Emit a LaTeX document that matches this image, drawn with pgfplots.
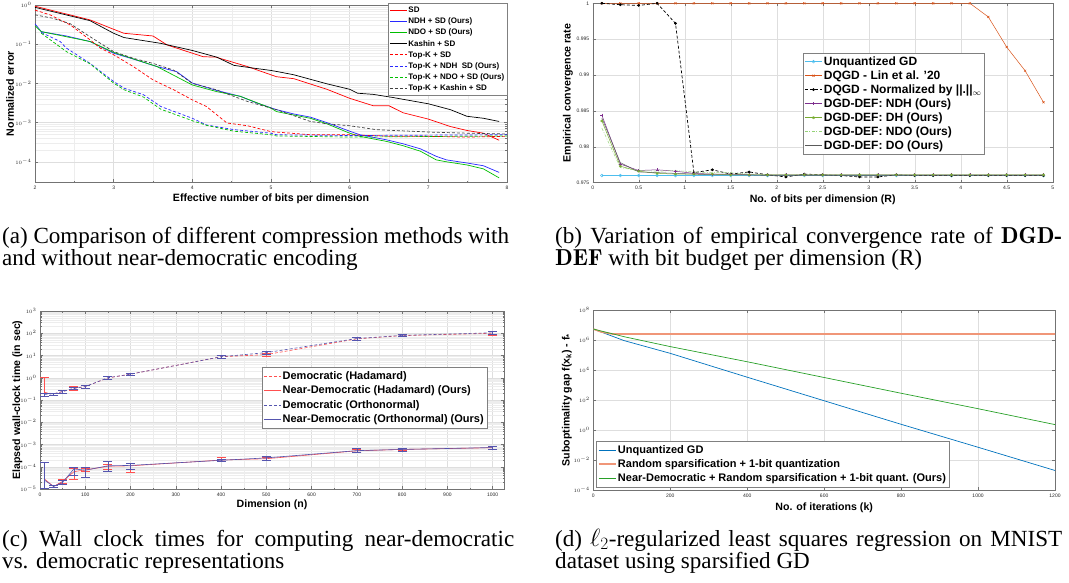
\documentclass[border=0pt]{standalone}
\usepackage{fontspec}
\setmainfont{Liberation Serif}
\setsansfont{Liberation Sans}
\usepackage{pgfplots}
\pgfplotsset{compat=1.18}
\definecolor{mgreen}{RGB}{0,190,0}
\definecolor{mlblue}{RGB}{77,190,238}
\definecolor{morange}{RGB}{217,83,25}
\definecolor{mpurple}{RGB}{126,47,142}
\definecolor{mdgreen}{RGB}{119,172,48}
\definecolor{mlgreen}{RGB}{150,210,120}
\definecolor{mgray}{RGB}{90,90,90}
\definecolor{cred}{RGB}{255,80,80}
\definecolor{cblue}{RGB}{85,85,175}
\definecolor{dblue}{RGB}{0,114,189}
\definecolor{dorange}{RGB}{240,150,120}
\definecolor{dgreen}{RGB}{40,160,40}
\definecolor{nblue}{RGB}{40,40,255}
\pgfplotsset{
 base/.style={
  scale only axis, anchor=south west,
  axis line style={black!55, line width=0.4pt},
  tick style={black!55, line width=0.4pt},
  major tick length=3pt, minor tick length=1.5pt,
  tick align=inside,
  tick label style={font=\sffamily\fontsize{5}{6}\selectfont, black!85},
  label style={font=\sffamily\bfseries\fontsize{10.6}{12}\selectfont},
  major grid style={black!13, line width=0.4pt},
  minor grid style={black!7, line width=0.3pt},
  /pgf/number format/assume math mode=true,
  /pgf/number format/1000 sep={},
  scaled ticks=false,
  legend cell align=left,
  legend style={font=\sffamily\bfseries\fontsize{11}{12}\selectfont, draw=black!50, fill=white, inner sep=1.5pt,
    nodes={inner xsep=1.5pt, inner ysep=2.3pt}},
  every axis plot/.append style={line width=0.7pt},
 }
}
\begin{document}
\begin{tikzpicture}
\useasboundingbox (0pt,0pt) rectangle (1069pt,582pt);
% ---------------- (a)
\begin{axis}[base, at={(35pt,399.7pt)}, width=472pt, height=177.3pt,
 xmin=2, xmax=8, ymin=3e-5, ymax=1, ymode=log,
 xtick={2,3,4,5,6,7,8}, ytick={1e-4,1e-3,1e-2,1e-1,1},
 grid=both, minor x tick num=1,
 xlabel={Effective number of bits per dimension}, ylabel={Normalized error},
 xlabel style={at={(axis description cs:0.5,-0.094)}, anchor=center},
 ylabel style={at={(axis description cs:-0.053,0.5)}, anchor=center},
 legend style={at={(1,1.01)}, anchor=north east, font=\sffamily\bfseries\fontsize{8}{9}\selectfont,
   nodes={inner xsep=1pt, inner ysep=1.95pt}},
 every axis legend/.append style={},
 legend image post style={line width=1pt},
]
\addplot[red] coordinates {(2,0.93) (2.7,0.417) (3.0,0.24) (3.13,0.19) (3.5,0.162) (3.68,0.0955) (4.0,0.0589) (4.14,0.0479) (4.3,0.0468) (4.7,0.0269) (5.07,0.0148) (5.29,0.0132) (5.71,0.00708) (6.0,0.00417) (6.3,0.00269) (6.5,0.00269) (6.68,0.00178) (7.0,0.00123) (7.28,0.000794) (7.49,0.000631) (7.7,0.000537) (7.9,0.000355)};
\addlegendentry{SD}
\addplot[nblue] coordinates {(2,0.331) (2.08,0.209) (2.4,0.162) (2.7,0.117) (3.0,0.0589) (3.25,0.0417) (3.55,0.0269) (3.8,0.02) (4.0,0.0102) (4.31,0.00661) (4.61,0.00468) (4.82,0.00316) (5.07,0.00214) (5.29,0.00166) (5.5,0.00138) (5.71,0.001) (6.0,0.000603) (6.13,0.00049) (6.47,0.000363) (6.68,0.000288) (6.9,0.000214) (7.1,0.000138) (7.23,0.000112) (7.49,0.0000933) (7.7,0.0000794) (7.9,0.0000537)};
\addlegendentry{NDH + SD (Ours)}
\addplot[mgreen] coordinates {(2,0.295) (2.08,0.209) (2.4,0.155) (2.7,0.117) (3.0,0.0617) (3.55,0.0269) (4.0,0.00912) (4.31,0.00617) (4.61,0.00468) (5.0,0.00234) (5.07,0.00191) (5.5,0.00129) (5.71,0.000933) (6.0,0.000537) (6.13,0.000447) (6.47,0.000331) (6.68,0.000257) (6.9,0.000186) (7.1,0.000112) (7.23,0.0001) (7.49,0.0000832) (7.7,0.0000661) (7.9,0.0000389)};
\addlegendentry{NDO + SD (Ours)}
\addplot[black] coordinates {(2,0.871) (2.7,0.398) (3.0,0.19) (3.13,0.148) (3.6,0.105) (4.0,0.0692) (4.31,0.0468) (4.53,0.0288) (4.78,0.0245) (5.0,0.0214) (5.11,0.0195) (5.29,0.0166) (5.71,0.00977) (6.0,0.00708) (6.1,0.00562) (6.3,0.00525) (6.55,0.00437) (7.0,0.00302) (7.28,0.00214) (7.49,0.00145) (7.7,0.00129) (7.9,0.00107)};
\addlegendentry{Kashin + SD}
\addplot[red, dash pattern=on 3pt off 2pt] coordinates {(2,0.741) (2.19,0.562) (2.45,0.309) (2.7,0.129) (2.83,0.0794) (3.0,0.0537) (3.25,0.0269) (3.5,0.0123) (3.76,0.00692) (4.0,0.0038) (4.18,0.00257) (4.44,0.000977) (4.7,0.000832) (5.0,0.000589) (5.5,0.00049) (6.0,0.00049) (6.55,0.000447) (7.0,0.000447) (7.49,0.000427) (8.0,0.000447)};
\addlegendentry{Top-K + SD}
\addplot[nblue, dash pattern=on 3pt off 2pt] coordinates {(2.08,0.2) (2.32,0.117) (2.4,0.0794) (2.7,0.0324) (3.0,0.0112) (3.13,0.00759) (3.38,0.00513) (3.6,0.00257) (4.0,0.00129) (4.18,0.000871) (4.53,0.000661) (5.0,0.000537) (5.07,0.00049) (6.0,0.000468) (8.0,0.00049)};
\addlegendentry{Top-K + NDH\ \ SD (Ours)}
\addplot[mgreen, dash pattern=on 3pt off 2pt] coordinates {(2.08,0.191) (2.4,0.0646) (2.7,0.0316) (3.0,0.0102) (3.13,0.00692) (3.38,0.00447) (3.6,0.00219) (4.0,0.00112) (4.18,0.000851) (4.53,0.000603) (5.0,0.00049) (5.07,0.000457) (6.0,0.000427) (8.0,0.000457)};
\addlegendentry{Top-K + NDO + SD (Ours)}
\addplot[black!75, dash pattern=on 3pt off 2pt] coordinates {(2,0.562) (2.23,0.457) (2.45,0.331) (2.7,0.155) (3.0,0.0646) (3.25,0.0437) (3.5,0.0324) (3.76,0.0219) (4.0,0.01) (4.3,0.00692) (4.7,0.00347) (5.0,0.00234) (5.07,0.00214) (5.5,0.00107) (5.71,0.000933) (6.0,0.000832) (6.34,0.000661) (7.0,0.000575) (7.49,0.000537) (8.0,0.000513)};
\addlegendentry{Top-K + Kashin + SD}
\end{axis}
% ---------------- (b)
\begin{axis}[base, at={(592.7pt,399.3pt)}, width=460pt, height=179.4pt,
 xmin=0, xmax=5, ymin=0.975, ymax=1,
 xtick={0,0.5,1,1.5,2,2.5,3,3.5,4,4.5,5}, ytick={0.975,0.98,0.985,0.99,0.995,1},
 yticklabel style={/pgf/number format/precision=3},
 grid=major,
 xlabel={No. of bits per dimension (R)}, ylabel={Empirical convergence rate},
 xlabel style={at={(axis description cs:0.5,-0.096)}, anchor=center},
 ylabel style={at={(axis description cs:-0.054,0.5)}, anchor=center},
 legend style={at={(0.457,0.723)}, anchor=north west, font=\sffamily\bfseries\fontsize{12}{13}\selectfont,
   nodes={inner xsep=1.5pt, inner ysep=1.9pt}},
 every axis plot/.append style={line width=0.5pt},
]
\addplot[mlblue, mark=o, mark size=1.4pt] coordinates {(0.1,0.976) (0.3,0.976) (0.5,0.976) (0.7,0.976) (0.9,0.976) (1.1,0.976) (1.3,0.976) (1.5,0.976) (1.7,0.976) (1.9,0.976) (2.1,0.976) (2.3,0.976) (2.5,0.976) (2.7,0.976) (2.9,0.976) (3.1,0.976) (3.3,0.976) (3.5,0.976) (3.7,0.976) (3.9,0.976) (4.1,0.976) (4.3,0.976) (4.5,0.976) (4.7,0.976) (4.9,0.976)};
\addlegendentry{Unquantized GD}
\addplot[morange, mark=x, mark size=1.5pt] coordinates {(0.1,1) (0.3,1) (0.5,1) (0.7,1) (0.9,1) (1.1,1) (1.3,1) (1.5,1) (1.7,1) (1.9,1) (2.1,1) (2.3,1) (2.5,1) (2.7,1) (2.9,1) (3.1,1) (3.3,1) (3.5,1) (3.7,1) (3.9,1) (4.1,1) (4.3,0.9981) (4.5,0.9939) (4.7,0.9906) (4.9,0.9862)};
\addlegendentry{DQGD - Lin et al. '20}
\addplot[black, line width=0.7pt, dash pattern=on 3pt off 2pt, mark=*, mark size=1pt, mark options={solid}] coordinates {(0.1,1) (0.3,0.9998) (0.5,0.9997) (0.7,1) (0.9,0.9972) (1.1,0.9764) (1.3,0.9768) (1.5,0.9762) (1.7,0.9765) (1.9,0.9761) (2.1,0.9758) (2.3,0.9762) (2.5,0.9761) (2.7,0.976) (2.9,0.9758) (3.1,0.9758) (3.3,0.9761) (3.5,0.976) (3.7,0.976) (3.9,0.976) (4.1,0.976) (4.3,0.976) (4.5,0.976) (4.7,0.976) (4.9,0.976)};
\addlegendentry{DQGD - Normalized by ||.||$_\infty$}
\addplot[mpurple, mark=+, mark size=1.5pt] coordinates {(0.1,0.9844) (0.3,0.9776) (0.5,0.9767) (0.7,0.9768) (0.9,0.9766) (1.1,0.9763) (1.3,0.9762) (1.5,0.9762) (1.7,0.9761) (1.9,0.9761) (2.1,0.9761) (2.3,0.9761) (2.5,0.9761) (2.7,0.9761) (2.9,0.9761) (3.1,0.9761) (3.3,0.9761) (3.5,0.9761) (3.7,0.9761) (3.9,0.9761) (4.1,0.9761) (4.3,0.9761) (4.5,0.9761) (4.7,0.9761) (4.9,0.9761)};
\addlegendentry{DGD-DEF: NDH (Ours)}
\addplot[mdgreen, mark=asterisk, mark size=1.5pt] coordinates {(0.1,0.9836) (0.3,0.9773) (0.5,0.9766) (0.7,0.9763) (0.9,0.9762) (1.1,0.9762) (1.3,0.9762) (1.5,0.9761) (1.7,0.9761) (1.9,0.9761) (2.1,0.9761) (2.3,0.9761) (2.5,0.9761) (2.7,0.9761) (2.9,0.9761) (3.1,0.9761) (3.3,0.9761) (3.5,0.9761) (3.7,0.9761) (3.9,0.9761) (4.1,0.9761) (4.3,0.9761) (4.5,0.9761) (4.7,0.9761) (4.9,0.9761)};
\addlegendentry{DGD-DEF: DH (Ours)}
\addplot[mlgreen, dash pattern=on 3pt off 1.5pt on 1pt off 1.5pt] coordinates {(0.1,0.9826) (0.3,0.9771) (0.5,0.9767) (0.7,0.9766) (0.9,0.9767) (1.1,0.9765) (1.3,0.9764) (1.5,0.9764) (1.7,0.9762) (1.9,0.9761) (2.1,0.9761) (2.3,0.9761) (2.5,0.9761) (2.7,0.9761) (2.9,0.9761) (3.1,0.9761) (3.3,0.9761) (3.5,0.9761) (3.7,0.9761) (3.9,0.9761) (4.1,0.9761) (4.3,0.9761) (4.5,0.9761) (4.7,0.9761) (4.9,0.9761)};
\addlegendentry{DGD-DEF: NDO (Ours)}
\addplot[mgray] coordinates {(0.1,0.984) (0.3,0.9778) (0.5,0.9765) (0.7,0.9764) (0.9,0.9763) (1.1,0.9762) (1.3,0.9761) (1.5,0.9761) (1.7,0.9761) (1.9,0.976) (2.1,0.976) (2.3,0.976) (2.5,0.976) (2.7,0.976) (2.9,0.976) (3.1,0.976) (3.3,0.976) (3.5,0.976) (3.7,0.976) (3.9,0.976) (4.1,0.976) (4.3,0.976) (4.5,0.976) (4.7,0.976) (4.9,0.976)};
\addlegendentry{DGD-DEF: DO (Ours)}
\end{axis}
% ---------------- (c)
\begin{axis}[base, at={(40pt,93pt)}, width=464pt, height=178pt,
 xmin=0, xmax=1025, ymin=1e-5, ymax=1e3, ymode=log,
 xtick={0,100,200,300,400,500,600,700,800,900,1000},
 ytick={1e-5,1e-4,1e-3,1e-2,1e-1,1,1e1,1e2,1e3},
 grid=both, minor x tick num=1,
 xlabel={Dimension (n)}, ylabel={Elapsed wall-clock time (in sec)},
 xlabel style={at={(axis description cs:0.5,-0.09)}, anchor=center},
 ylabel style={at={(axis description cs:-0.049,0.5)}, anchor=center},
 legend style={at={(0.478,0.685)}, anchor=north west, nodes={inner xsep=1.5pt, inner ysep=2.5pt}},
 every axis plot/.append style={line width=0.6pt},
 error bars/error mark options={rotate=90, mark size=4.5pt, line width=0.6pt},
]
\addplot[cred, dash pattern=on 3pt off 2pt, error bars/.cd, y dir=both, y explicit, error bar style={solid, line width=0.6pt}] coordinates {
(10,0.22) += (0,0.78) -= (0,0.07)
(30,0.19) += (0,0.02) -= (0,0.02)
(50,0.24) += (0,0.03) -= (0,0.03)
(75,0.33) += (0,0.07) -= (0,0.05)
(100,0.4) += (0,0.05) -= (0,0.05)
(150,0.98) += (0,0.15) -= (0,0.15)
(200,1.45) += (0,0.2) -= (0,0.2)
(400,8.8) += (0,1) -= (0,1)
(500,11) += (0,2) -= (0,2)
(700,56) += (0,8) -= (0,6)
(800,78) += (0,10) -= (0,8)
(1000,100) += (0,20) -= (0,15)};
\addlegendentry{Democratic (Hadamard)}
\addplot[cred, error bars/.cd, y dir=both, y explicit, error bar style={solid, line width=0.6pt}] coordinates {
(10,0.000028) += (0,0.00013) -= (0,0.000017)
(30,0.000013) += (0,0.000001) -= (0,0.000001)
(50,0.000022) += (0,0.000005) -= (0,0.000004)
(75,0.00006) += (0,0.000025) -= (0,0.000032)
(100,0.000072) += (0,0.00001) -= (0,0.00001)
(150,0.000105) += (0,0.000025) -= (0,0.000025)
(200,0.00011) += (0,0.00003) -= (0,0.000055)
(400,0.0002) += (0,0.00007) -= (0,0.00003)
(500,0.00023) += (0,0.00003) -= (0,0.00003)
(700,0.00052) += (0,0.00008) -= (0,0.00006)
(800,0.0006) += (0,0.00008) -= (0,0.00007)
(1000,0.00072) += (0,0.0001) -= (0,0.00008)};
\addlegendentry{Near-Democratic (Hadamard) (Ours)}
\addplot[cblue, dash pattern=on 3pt off 2pt, error bars/.cd, y dir=both, y explicit, error bar style={solid, line width=0.6pt}] coordinates {
(10,0.18) += (0,0.03) -= (0,0.03)
(30,0.19) += (0,0.02) -= (0,0.02)
(50,0.24) += (0,0.03) -= (0,0.03)
(75,0.34) += (0,0.05) -= (0,0.05)
(100,0.4) += (0,0.05) -= (0,0.05)
(150,1.0) += (0,0.15) -= (0,0.15)
(200,1.45) += (0,0.2) -= (0,0.2)
(400,8.8) += (0,1) -= (0,1)
(500,13.5) += (0,2.5) -= (0,2)
(700,58) += (0,10) -= (0,8)
(800,80) += (0,10) -= (0,8)
(1000,105) += (0,20) -= (0,15)};
\addlegendentry{Democratic (Orthonormal)}
\addplot[cblue, error bars/.cd, y dir=both, y explicit, error bar style={solid, line width=0.6pt}] coordinates {
(10,0.000025) += (0,0.000135) -= (0,0.000014)
(30,0.000013) += (0,0.000001) -= (0,0.000001)
(50,0.00002) += (0,0.000004) -= (0,0.000003)
(75,0.00008) += (0,0.00001) -= (0,0.00004)
(100,0.00007) += (0,0.000025) -= (0,0.000035)
(150,0.00011) += (0,0.00007) -= (0,0.00005)
(200,0.000115) += (0,0.000035) -= (0,0.000035)
(400,0.000195) += (0,0.000015) -= (0,0.000025)
(500,0.00025) += (0,0.00005) -= (0,0.00005)
(700,0.00053) += (0,0.00012) -= (0,0.00008)
(800,0.0006) += (0,0.0001) -= (0,0.00008)
(1000,0.00073) += (0,0.00012) -= (0,0.0001)};
\addlegendentry{Near-Democratic (Orthonormal) (Ours)}
\end{axis}
% ---------------- (d)
\begin{axis}[base, at={(593.3pt,92pt)}, width=461.7pt, height=180pt,
 xmin=0, xmax=1200, ymin=1e-4, ymax=1e8, ymode=log,
 xtick={0,200,400,600,800,1000,1200}, ytick={1e-4,1e-2,1,1e2,1e4,1e6,1e8},
 yminorticks=false, grid=major,
 xlabel={No. of iterations (k)}, ylabel={Suboptimality gap f(x\textsubscript{k}) - f\textsubscript{*}},
 xlabel style={at={(axis description cs:0.5,-0.1)}, anchor=center},
 ylabel style={at={(axis description cs:-0.057,0.5)}, anchor=center},
 legend style={at={(0.006,0.017)}, anchor=south west},
]
\addplot[dblue] coordinates {(0,5.37e6) (80,9.12e5) (200,1.29e5) (400,3311) (600,89.1) (800,2.4) (1000,0.0708) (1200,0.002)};
\addlegendentry{Unquantized GD}
\addplot[dorange, line width=1.6pt] coordinates {(0,5.37e6) (20,3.5e6) (50,2.5e6) (1200,2.5e6)};
\addlegendentry{Random sparsification + 1-bit quantization}
\addplot[dgreen] coordinates {(0,5.37e6) (80,1.66e6) (200,3.63e5) (400,3.55e4) (600,3162) (800,282) (1000,26.3) (1200,2.29)};
\addlegendentry{Near-Democratic + Random sparsification + 1-bit quant. (Ours)}
\end{axis}
% ---------------- captions
\begin{scope}[every node/.style={anchor=base west, inner sep=0pt, font=\rmfamily\fontsize{23.1}{23}\selectfont}]
\node at (2pt,338.8pt) {\hbox to 507pt{(a) Comparison of different compression methods with}};
\node at (2pt,316.1pt) {and without near-democratic encoding};
\node at (555pt,338.8pt) {\hbox to 507pt{(b) Variation of empirical convergence rate of {\fontfamily{lmr}\bfseries DGD-}}};
\node at (555pt,316.1pt) {{\fontfamily{lmr}\bfseries DEF} with bit budget per dimension (R)};
\node at (2pt,35.8pt) {\hbox to 512pt{(c) Wall clock times for computing near-democratic}};
\node at (2pt,13.1pt) {vs. democratic representations};
\node at (555pt,35.8pt) {\hbox to 507pt{(d) $\ell_{2}$-regularized least squares regression on MNIST}};
\node at (555pt,13.1pt) {dataset using sparsified GD};
\end{scope}
\end{tikzpicture}
\end{document}
